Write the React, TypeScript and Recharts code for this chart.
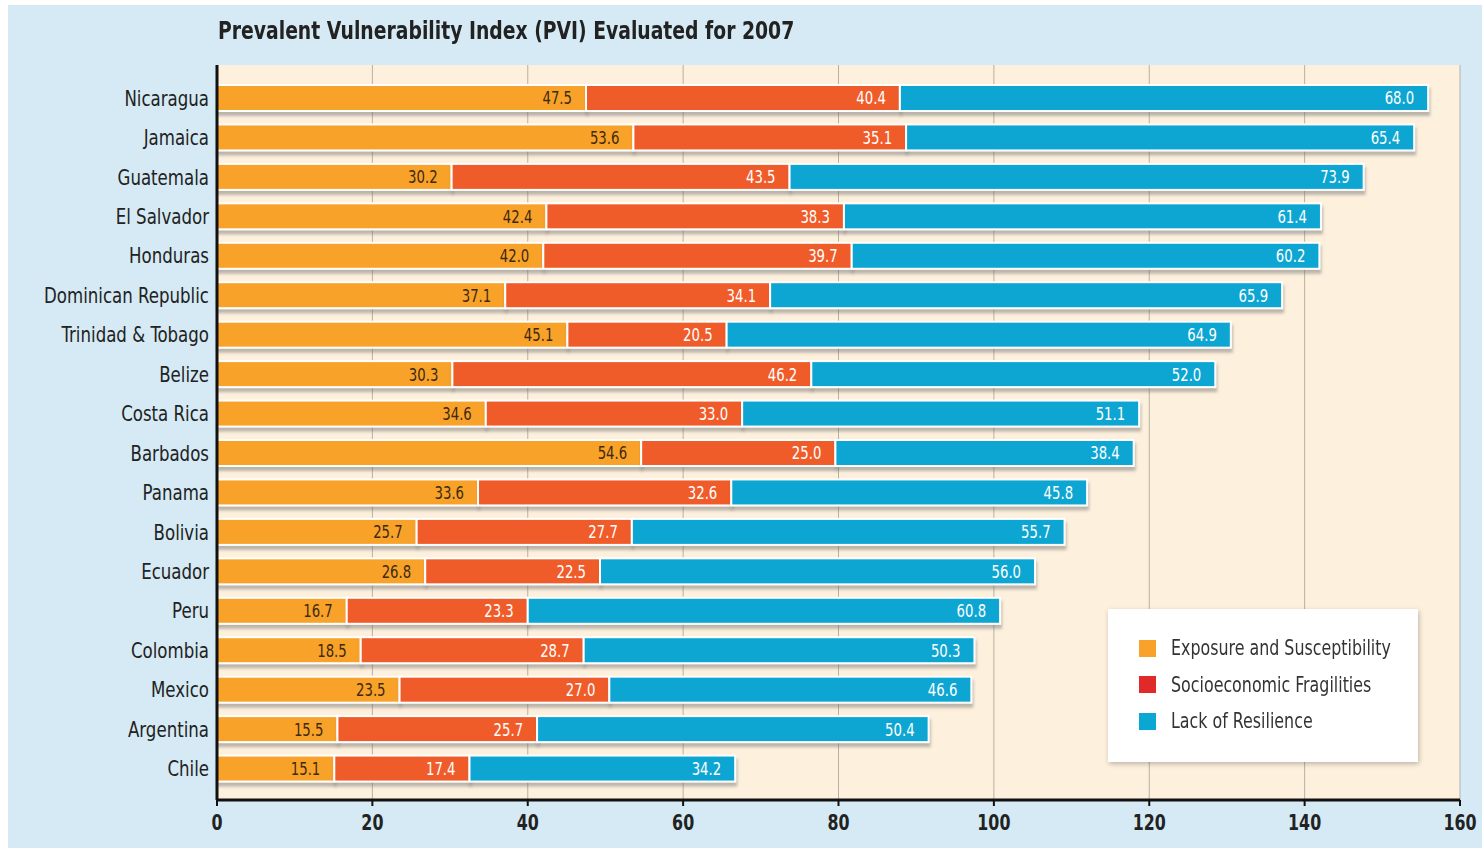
import React from "react";
import { BarChart, Bar, XAxis, YAxis, CartesianGrid, LabelList } from "recharts";

const countries = [
  "Nicaragua", "Jamaica", "Guatemala", "El Salvador", "Honduras", "Dominican Republic",
  "Trinidad & Tobago", "Belize", "Costa Rica", "Barbados", "Panama", "Bolivia",
  "Ecuador", "Peru", "Colombia", "Mexico", "Argentina", "Chile",
];
const exposure = [47.5, 53.6, 30.2, 42.4, 42.0, 37.1, 45.1, 30.3, 34.6, 54.6, 33.6, 25.7, 26.8, 16.7, 18.5, 23.5, 15.5, 15.1];
const socio = [40.4, 35.1, 43.5, 38.3, 39.7, 34.1, 20.5, 46.2, 33.0, 25.0, 32.6, 27.7, 22.5, 23.3, 28.7, 27.0, 25.7, 17.4];
const resilience = [68.0, 65.4, 73.9, 61.4, 60.2, 65.9, 64.9, 52.0, 51.1, 38.4, 45.8, 55.7, 56.0, 60.8, 50.3, 46.6, 50.4, 34.2];
const xTicks = [0, 20, 40, 60, 80, 100, 120, 140, 160];
const seriesNames = ["Exposure and Susceptibility", "Socioeconomic Fragilities", "Lack of Resilience"];
const barColors = ["#f8a22b", "#ef5b2a", "#0ba6d2"];
const legendColors = ["#f8a22b", "#e2292a", "#0aa7d3"];
const labelColors = ["#3d2a0f", "#ffffff", "#ffffff"];
const title = "Prevalent Vulnerability Index (PVI) Evaluated for 2007";

const data = countries.map((c, i) => ({
  country: c,
  exposure: exposure[i],
  socio: socio[i],
  resilience: resilience[i],
}));

const FONT = "'DejaVu Sans Condensed', 'DejaVu Sans', sans-serif";

const ShadowRect = (props: any) => {
  const { x, y, width, height, fill } = props;
  if (width == null || height == null) return null;
  return (
    <rect x={x} y={y} width={width} height={height} fill={fill} stroke="#ffffff" strokeWidth={2} filter="url(#barShadow)" />
  );
};

const makeLabel = (color: string) => (props: any) => {
  const { x, y, width, height, value } = props;
  const tx = Number(x) + Number(width) - 14;
  const ty = Number(y) + Number(height) / 2;
  return (
    <text
      transform={`translate(${tx},${ty}) scale(0.82,1)`}
      textAnchor="end"
      dy="0.36em"
      fontFamily={FONT}
      fontSize={18}
      fill={color}
    >
      {Number(value).toFixed(1)}
    </text>
  );
};

const CategoryTick = (props: any) => {
  const { x, y, payload } = props;
  return (
    <text
      transform={`translate(${x},${y}) scale(0.84,1)`}
      textAnchor="end"
      dy="0.36em"
      fontFamily={FONT}
      fontSize={22}
      fill="#222222"
    >
      {payload.value}
    </text>
  );
};

const ValueTick = (props: any) => {
  const { x, y, payload } = props;
  return (
    <text
      transform={`translate(${x},${y}) scale(0.8,1)`}
      textAnchor="middle"
      dy="0.71em"
      fontFamily={FONT}
      fontWeight="bold"
      fontSize={22}
      fill="#222222"
    >
      {payload.value}
    </text>
  );
};

const LegendBox = () => (
  <div
    style={{
      position: "absolute",
      left: 1108,
      top: 609,
      width: 310,
      height: 153,
      background: "#ffffff",
      boxShadow: "1px 2px 5px rgba(0,0,0,0.25)",
      boxSizing: "border-box",
      paddingTop: 21,
      paddingLeft: 31,
      fontFamily: FONT,
    }}
  >
    {seriesNames.map((n, i) => (
      <div key={n} style={{ display: "flex", alignItems: "center", height: 36.5, whiteSpace: "nowrap" }}>
        <div style={{ width: 17, height: 17, background: legendColors[i], marginRight: 15, flex: "none" }} />
        <span
          style={{
            fontSize: 21,
            color: "#333333",
            display: "inline-block",
            transform: "scaleX(0.84)",
            transformOrigin: "left center",
          }}
        >
          {n}
        </span>
      </div>
    ))}
  </div>
);

export default function App() {
  return (
    <div style={{ position: "absolute", left: 0, top: 0, width: 1482, height: 848, background: "#ffffff" }}>
      <div style={{ position: "absolute", left: 8, top: 5, width: 1474, height: 843, background: "#d5eaf4" }} />
      <div
        style={{
          position: "absolute",
          left: 218,
          top: 17,
          fontFamily: FONT,
          fontWeight: "bold",
          fontSize: 24,
          color: "#222222",
          whiteSpace: "nowrap",
          transform: "scaleX(0.87)",
          transformOrigin: "left top",
        }}
      >
        {title}
      </div>
      <div style={{ position: "absolute", left: 0, top: 0 }}>
        <BarChart
          width={1482}
          height={848}
          data={data}
          layout="vertical"
          margin={{ top: 65, right: 22, bottom: 8, left: 17 }}
          barSize={26}
        >
          <defs>
            <filter id="barShadow" x="-5%" y="-30%" width="110%" height="180%">
              <feDropShadow dx="1" dy="4" stdDeviation="1.5" floodColor="#6b6b6b" floodOpacity="0.45" />
            </filter>
          </defs>
          <CartesianGrid horizontal={false} vertical={true} stroke="#b9b0a4" fill="#fdf0dd" />
          <XAxis
            type="number"
            domain={[0, 160]}
            ticks={xTicks}
            height={40}
            axisLine={{ stroke: "#111111", strokeWidth: 3 }}
            tickLine={{ stroke: "#111111", strokeWidth: 2 }}
            tickSize={6}
            tick={<ValueTick />}
            tickMargin={8}
          />
          <YAxis
            type="category"
            dataKey="country"
            width={200}
            padding={{ top: 13, bottom: 12 }}
            axisLine={{ stroke: "#111111", strokeWidth: 3 }}
            tickLine={false}
            tickMargin={2}
            tick={<CategoryTick />}
          />
          <Bar dataKey="exposure" stackId="a" fill={barColors[0]} isAnimationActive={false} shape={<ShadowRect />}>
            <LabelList dataKey="exposure" content={makeLabel(labelColors[0])} />
          </Bar>
          <Bar dataKey="socio" stackId="a" fill={barColors[1]} isAnimationActive={false} shape={<ShadowRect />}>
            <LabelList dataKey="socio" content={makeLabel(labelColors[1])} />
          </Bar>
          <Bar dataKey="resilience" stackId="a" fill={barColors[2]} isAnimationActive={false} shape={<ShadowRect />}>
            <LabelList dataKey="resilience" content={makeLabel(labelColors[2])} />
          </Bar>
        </BarChart>
      </div>
      <LegendBox />
    </div>
  );
}
